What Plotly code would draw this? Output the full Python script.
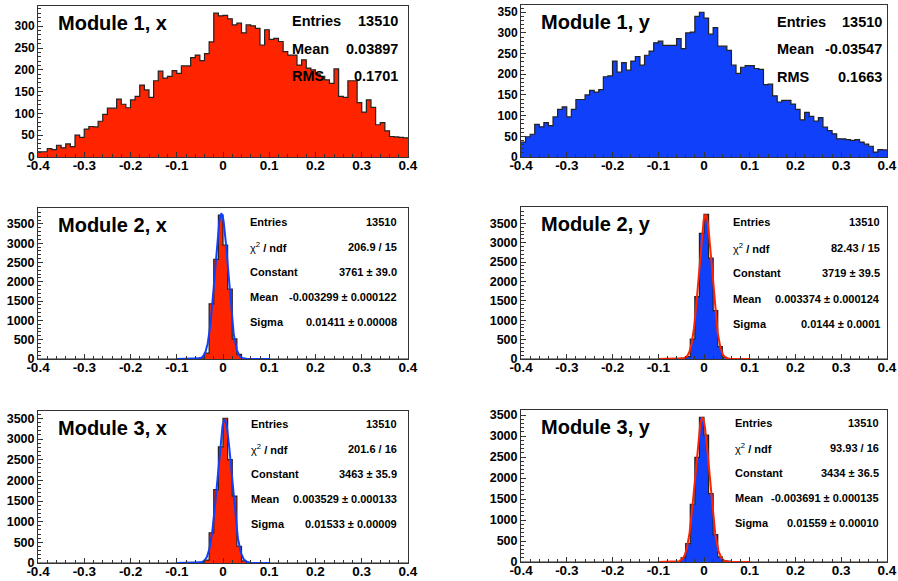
import numpy as np
import plotly.graph_objects as go

# ---------------- data ----------------
bin_low, bin_high, n_bins = -0.4, 0.4, 80

m1x_counts = [12, 12, 19, 17, 27, 21, 30, 24, 50, 45,
              64, 70, 69, 82, 98, 112, 112, 133, 121, 113,
              131, 139, 165, 154, 137, 175, 197, 181, 185, 198,
              192, 209, 209, 228, 234, 221, 237, 264, 330, 324,
              325, 317, 303, 307, 285, 303, 301, 295, 257, 292,
              270, 272, 265, 242, 234, 234, 211, 223, 204, 200,
              191, 185, 177, 169, 202, 139, 137, 175, 175, 125,
              103, 131, 114, 74, 79, 60, 47, 46, 45, 44]

m1y_counts = [36, 49, 55, 79, 73, 83, 76, 97, 115, 121,
              97, 115, 139, 139, 150, 161, 157, 163, 194, 196,
              232, 205, 228, 210, 232, 243, 222, 246, 256, 276,
              280, 270, 270, 270, 286, 262, 300, 302, 340, 350,
              336, 297, 313, 268, 268, 258, 222, 202, 217, 221,
              221, 214, 212, 175, 176, 148, 133, 137, 137, 128,
              115, 90, 108, 98, 87, 95, 72, 64, 56, 44,
              44, 42, 40, 42, 36, 31, 26, 12, 18, 17]

# narrow distributions: bins from -0.06 to 0.06 (indices 34..45), zero elsewhere
m2x_core = [5, 30, 150, 1430, 2580, 3727, 2950, 1810, 520, 120, 15, 5]
m2y_core = [5, 20, 60, 510, 1610, 3240, 3733, 2600, 1250, 320, 40, 10]
m3x_core = [5, 15, 70, 730, 1775, 2810, 3503, 2500, 1620, 405, 50, 10]
m3y_core = [10, 100, 440, 1375, 2490, 3448, 3020, 1630, 650, 120, 30, 20]
core_first_bin = 34

def pad(core):
    full = [0] * core_first_bin + list(core)
    full += [0] * (n_bins - len(full))
    return full

m2x_counts = pad(m2x_core)
m2y_counts = pad(m2y_core)
m3x_counts = pad(m3x_core)
m3y_counts = pad(m3y_core)

# gaussian fit parameters (constant, mean, sigma) shown in the stat boxes
m2x_fit = (3761, -0.003299, 0.01411)
m2y_fit = (3719, 0.003374, 0.0144)
m3x_fit = (3463, 0.003529, 0.01533)
m3y_fit = (3434, -0.003691, 0.01559)
fit_range = (-0.1, 0.1)

titles = ["Module 1, x", "Module 1, y", "Module 2, x", "Module 2, y", "Module 3, x", "Module 3, y"]

stats = [
    [("Entries", "13510"), ("Mean", "0.03897"), ("RMS", "0.1701")],
    [("Entries", "13510"), ("Mean", "-0.03547"), ("RMS", "0.1663")],
    [("Entries", "13510"), ("χ<sup>2</sup> / ndf", "206.9 / 15"), ("Constant", "3761 ± 39.0"),
     ("Mean", "-0.003299 ± 0.000122"), ("Sigma", "0.01411 ± 0.00008")],
    [("Entries", "13510"), ("χ<sup>2</sup> / ndf", "82.43 / 15"), ("Constant", "3719 ± 39.5"),
     ("Mean", "0.003374 ± 0.000124"), ("Sigma", "0.0144 ± 0.0001")],
    [("Entries", "13510"), ("χ<sup>2</sup> / ndf", "201.6 / 16"), ("Constant", "3463 ± 35.9"),
     ("Mean", "0.003529 ± 0.000133"), ("Sigma", "0.01533 ± 0.00009")],
    [("Entries", "13510"), ("χ<sup>2</sup> / ndf", "93.93 / 16"), ("Constant", "3434 ± 36.5"),
     ("Mean", "-0.003691 ± 0.000135"), ("Sigma", "0.01559 ± 0.00010")],
]

x_tick_vals = [-0.4, -0.3, -0.2, -0.1, 0.0, 0.1, 0.2, 0.3, 0.4]
x_tick_text = ["-0.4", "-0.3", "-0.2", "-0.1", "0", "0.1", "0.2", "0.3", "0.4"]
y_ticks_m1x = [0, 50, 100, 150, 200, 250, 300]
y_ticks_m1y = [0, 50, 100, 150, 200, 250, 300, 350]
y_ticks_fit = [0, 500, 1000, 1500, 2000, 2500, 3000, 3500]

# ---------------- style / layout ----------------
W, H = 898, 581
RED = "#ff2400"
BLUE = "#1040fa"
FONT = "Liberation Sans"

# panel boxes in pixels: (left, right, top, bottom)
boxes = [(38, 408, 6, 157), (521, 887, 5, 157),
         (38, 408, 208, 359), (521, 887, 207, 359),
         (38, 408, 411, 563), (521, 887, 410, 562)]

def px(x):
    return x / W

def py(y):
    return 1 - y / H

edges = np.linspace(bin_low, bin_high, n_bins + 1)

hists = [m1x_counts, m1y_counts, m2x_counts, m2y_counts, m3x_counts, m3y_counts]
fills = [RED, BLUE, RED, BLUE, RED, BLUE]
fits = [None, None, m2x_fit, m2y_fit, m3x_fit, m3y_fit]
yticks = [y_ticks_m1x, y_ticks_m1y, y_ticks_fit, y_ticks_fit, y_ticks_fit, y_ticks_fit]
y_minor = [10, 10, 100, 100, 100, 100]

fig = go.Figure()
annotations = []

for i in range(6):
    n = i + 1
    xa = "x" if n == 1 else f"x{n}"
    ya = "y" if n == 1 else f"y{n}"
    counts = hists[i]
    ys = list(counts) + [counts[-1]]
    fig.add_trace(go.Scatter(
        x=edges, y=ys, xaxis=xa, yaxis=ya, mode="lines",
        line=dict(shape="hv", color="#222222", width=1.2),
        fill="tozeroy", fillcolor=fills[i], hoverinfo="skip"))
    if fits[i] is not None:
        c, m, s = fits[i]
        fx = np.linspace(fit_range[0], fit_range[1], 401)
        fy = c * np.exp(-0.5 * ((fx - m) / s) ** 2)
        fig.add_trace(go.Scatter(
            x=fx, y=fy, xaxis=xa, yaxis=ya, mode="lines",
            line=dict(color=BLUE if fills[i] == RED else RED, width=2),
            hoverinfo="skip"))

    l, r, t, b = boxes[i]
    ymax = 1.05 * max(counts)
    ysize = 12 if i < 2 else 12.5
    xkey = "xaxis" if n == 1 else f"xaxis{n}"
    ykey = "yaxis" if n == 1 else f"yaxis{n}"
    fig.layout[xkey] = dict(
        domain=[px(l), px(r)], anchor=ya, range=[bin_low, bin_high], automargin=False,
        tickvals=x_tick_vals, ticktext=x_tick_text, ticklabelstandoff=-4,
        ticks="inside", ticklen=5, tickcolor="#333333", tickwidth=1,
        minor=dict(ticks="inside", ticklen=3, dtick=0.02, tick0=0, tickcolor="#333333"),
        showline=True, linecolor="#333333", linewidth=1, mirror=True,
        showgrid=False, zeroline=False,
        tickfont=dict(family=FONT, size=13.5, color="black", weight="bold"))
    fig.layout[ykey] = dict(
        domain=[py(b), py(t)], anchor=xa, range=[0, ymax], automargin=False,
        tickvals=yticks[i], ticktext=[str(v) for v in yticks[i]],
        ticks="inside", ticklen=5, tickcolor="#333333", tickwidth=1,
        minor=dict(ticks="inside", ticklen=3, dtick=y_minor[i], tick0=0, tickcolor="#333333"),
        showline=True, linecolor="#333333", linewidth=1, mirror=True,
        showgrid=False, zeroline=False,
        tickfont=dict(family=FONT, size=ysize, color="black", weight="bold"))

    # title
    annotations.append(dict(
        x=px(l + 18), y=py(t + 17), xref="paper", yref="paper",
        xanchor="left", yanchor="middle", showarrow=False,
        text="<b>" + titles[i] + "</b>",
        font=dict(family=FONT, size=20, color="black")))

# stats boxes
stat_layout = [
    dict(lx=290, rx=400, y0=21, dy=27.5, size=14.5),
    dict(lx=775, rx=884, y0=22, dy=27.5, size=14.5),
    dict(lx=248, rx=399, y0=222, dy=25, size=11),
    dict(lx=731, rx=882, y0=222, dy=25.5, size=11),
    dict(lx=249, rx=399, y0=424, dy=25, size=11),
    dict(lx=733, rx=881, y0=423, dy=25, size=11),
]
for i in range(6):
    sl = stat_layout[i]
    for k, (lab, val) in enumerate(stats[i]):
        yy = sl["y0"] + k * sl["dy"]
        annotations.append(dict(
            x=px(sl["lx"]), y=py(yy), xref="paper", yref="paper",
            xanchor="left", yanchor="middle", showarrow=False,
            text="<b>" + lab + "</b>" if "χ" not in lab else lab.replace(" / ndf", " <b>/ ndf</b>"),
            font=dict(family=FONT, size=sl["size"], color="black")))
        annotations.append(dict(
            x=px(sl["rx"]), y=py(yy), xref="paper", yref="paper",
            xanchor="right", yanchor="middle", showarrow=False,
            text="<b>" + val + "</b>",
            font=dict(family=FONT, size=sl["size"], color="black")))

fig.update_layout(
    width=W, height=H, margin=dict(l=0, r=0, t=0, b=0, autoexpand=False),
    paper_bgcolor="white", plot_bgcolor="white",
    showlegend=False, annotations=annotations)

fig.write_html("out.html", config={"displayModeBar": False},
               post_script="document.body.style.margin='0px';")
